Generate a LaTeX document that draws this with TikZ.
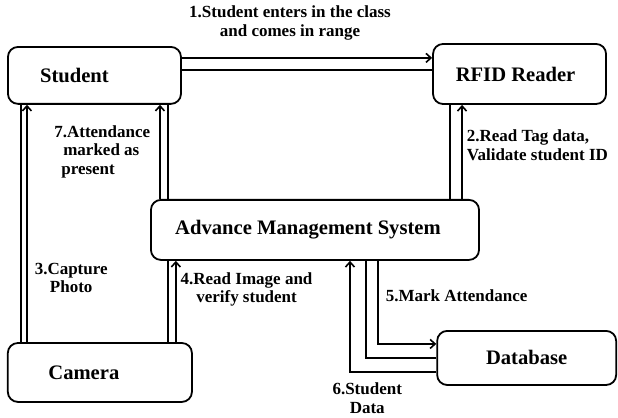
\documentclass[tikz,border=0pt]{standalone}
\usepackage{fontspec}
\setmainfont{Liberation Serif}
\usetikzlibrary{positioning, arrows.meta}

\begin{document}
\begin{tikzpicture}[
    >={Straight Barb[length=5pt, width=9pt]},
    block/.style={rectangle, rounded corners=10pt, draw=black, line width=1.8pt, align=center, font=\fontsize{20.6}{24}\selectfont\bfseries},
    flow/.style={line width=1.6pt},
    note/.style={font=\fontsize{17}{18.5}\selectfont\bfseries, inner sep=2pt}
]
    \useasboundingbox (0, 0) rectangle (21.72, -14.69);

    \node[block, minimum width=6.08cm, minimum height=2.0cm]  at (3.32, -2.65)   (student)  {Student\hspace{40pt}};
    \node[block, minimum width=6.08cm, minimum height=2.11cm] at (18.26, -2.60)  (rfid)     {RFID Reader\hspace{8pt}};
    \node[block, minimum width=11.53cm, minimum height=2.11cm] at (11.07, -8.08) (ams)      {Advance Management System\hspace{14pt}};
    \node[block, minimum width=6.47cm, minimum height=2.07cm] at (3.51, -13.09)  (camera)   {Camera\hspace{32pt}};
    \node[block, minimum width=6.29cm, minimum height=1.90cm] at (18.51, -12.58) (database) {Database};

    \draw[flow, ->] ([yshift=17.5pt]student.east) -- ([yshift=17.5pt]student.east -| rfid.west) node[midway, above=15pt, xshift=-17pt, note, align=center] {1.Student enters in the class \\ and comes in range};
    \draw[flow] ([yshift=5.5pt]student.east) -- ([yshift=5.5pt]student.east -| rfid.west);

    \draw[flow] ([xshift=-69.5pt]rfid.south |- ams.north) -- ([xshift=-69.5pt]rfid.south);
    \draw[flow, ->] ([xshift=-57.5pt]rfid.south |- ams.north) -- ([xshift=-57.5pt]rfid.south) node[pos=0.57, right=2pt, note, align=left] {2.Read Tag data, \\ Validate student ID};

    \draw[flow] ([xshift=-73.5pt]student.south) -- ([xshift=-73.5pt]student.south |- camera.north);
    \draw[flow, ->] ([xshift=-67.5pt]student.south |- camera.north) -- ([xshift=-67.5pt]student.south) node[pos=0.27, right=5pt, note, align=center] {3.Capture \\ Photo};

    \draw[flow] ([xshift=68pt]camera.north) -- ([xshift=68pt]camera.north |- ams.south);
    \draw[flow, ->] ([xshift=76pt]camera.north) -- ([xshift=76pt]camera.north |- ams.south) node[pos=0.65, right=2pt, note, align=center] {4.Read Image and \\ verify student};

    \draw[flow, ->] ([xshift=63pt]ams.south) |- ([yshift=14pt]database.west) node[pos=0.21, right=5pt, note] {5.Mark Attendance};
    \draw[flow] ([xshift=51pt]ams.south) |- (database.west);
    \draw[flow, ->] ([yshift=-14pt]database.west) -| ([xshift=35pt]ams.south) node[pos=0.40, below=9pt, note, inner sep=1pt, align=center] {6.Student \\ Data};

    \draw[flow, ->] ([xshift=65.5pt]student.south |- ams.north) -- ([xshift=65.5pt]student.south) node[midway, left=7pt, note, align=left] {7.Attendance \\ \hspace*{9pt}marked as \\ \hspace*{7pt}present};
    \draw[flow] ([xshift=73.5pt]student.south) -- ([xshift=73.5pt]student.south |- ams.north);
\end{tikzpicture}
\end{document}
